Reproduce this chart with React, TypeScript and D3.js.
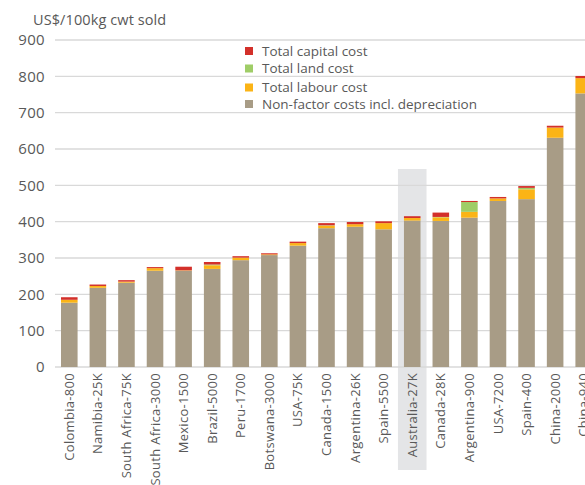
import React from "react";
import * as d3 from "d3";

const categories = [
  "Colombia-800", "Namibia-25K", "South Africa-75K", "South Africa-3000", "Mexico-1500",
  "Brazil-5000", "Peru-1700", "Botswana-3000", "USA-75K", "Canada-1500",
  "Argentina-26K", "Spain-5500", "Australia-27K", "Canada-28K", "Argentina-900",
  "USA-7200", "Spain-400", "China-2000", "China-940",
];
const nonFactor = [177, 218, 232, 265, 265, 270, 294, 308, 334, 382, 386, 379, 403, 402, 411, 457, 462, 631, 753];
const labour = [8, 5, 3, 7, 1, 10, 7, 2, 7, 7, 7, 17, 7, 10, 16, 7, 27, 28, 42];
const land = [0, 0, 0, 0, 0, 2, 0, 0, 0, 1, 0, 0, 0, 1, 27, 0, 4, 0, 0];
const capital = [7, 4, 4, 3, 10, 7, 4, 3, 4, 6, 6, 5, 5, 12, 3, 4, 5, 5, 6];
const yTicks = [0, 100, 200, 300, 400, 500, 600, 700, 800, 900];
const highlight = "Australia-27K";

const seriesKeys = ["nonFactor", "labour", "land", "capital"];
const seriesColors: any = {
  nonFactor: "#a89c86",
  labour: "#fbb416",
  land: "#9fcd67",
  capital: "#d3302a",
};
const legendItems = [
  { key: "capital", label: "Total capital cost" },
  { key: "land", label: "Total land cost" },
  { key: "labour", label: "Total labour cost" },
  { key: "nonFactor", label: "Non-factor costs incl. depreciation" },
];

const width = 585;
const height = 485;
const font = "'Open Sans', sans-serif";
const textColor = "#595959";

const App = () => {
  const rows = categories.map((c, i) => ({
    cat: c,
    nonFactor: nonFactor[i],
    labour: labour[i],
    land: land[i],
    capital: capital[i],
  }));
  const stacked = d3.stack<any>().keys(seriesKeys)(rows);

  // plot runs past the right edge, chart is cropped
  const x = d3.scaleBand().domain(categories).range([55, 598]).paddingInner(0.42).paddingOuter(0.21);
  const y = d3.scaleLinear().domain([0, 900]).range([367, 40]);

  const hx = x(highlight)! - (x.step() - x.bandwidth()) / 2;

  return (
    <svg width={width} height={height} style={{ position: "absolute", left: 0, top: 0 }} fontFamily={font}>
      <rect x={hx} y={169} width={x.step()} height={301} fill="#e4e5e7" />
      {yTicks.map((t) => (
        <g key={t}>
          <line x1={55} x2={width} y1={y(t)} y2={y(t)} stroke="#d9d9d9" strokeWidth={1.3} />
          <text x={45} y={y(t)} dy="0.36em" textAnchor="end" fontSize={15} letterSpacing={0.3} fill={textColor}>
            {t}
          </text>
        </g>
      ))}
      <text x={33} y={25} fontSize={14.5} letterSpacing={0.1} fill={textColor}>US$/100kg cwt sold</text>
      {stacked.map((s) => (
        <g key={s.key} fill={seriesColors[s.key]}>
          {s.map((d: any, i: number) => (
            <rect
              key={i}
              x={x(categories[i])}
              y={y(d[1])}
              width={x.bandwidth()}
              height={Math.max(0, y(d[0]) - y(d[1]))}
            />
          ))}
        </g>
      ))}
      {categories.map((c) => (
        <text
          key={c}
          transform={`translate(${x(c)! + x.bandwidth() / 2},373) rotate(-90)`}
          textAnchor="end"
          dy="0.35em"
          fontSize={13}
          letterSpacing={0.3}
          fill={textColor}
        >
          {c}
        </text>
      ))}
      {legendItems.map((l, i) => {
        const cy = [51, 68.5, 87.5, 104][i];
        return (
          <g key={l.key}>
            <rect x={245} y={cy - 4} width={8} height={8} fill={seriesColors[l.key]} />
            <text x={262} y={cy} dy="0.36em" fontSize={13.5} fill={textColor}>{l.label}</text>
          </g>
        );
      })}
    </svg>
  );
};

export default App;
